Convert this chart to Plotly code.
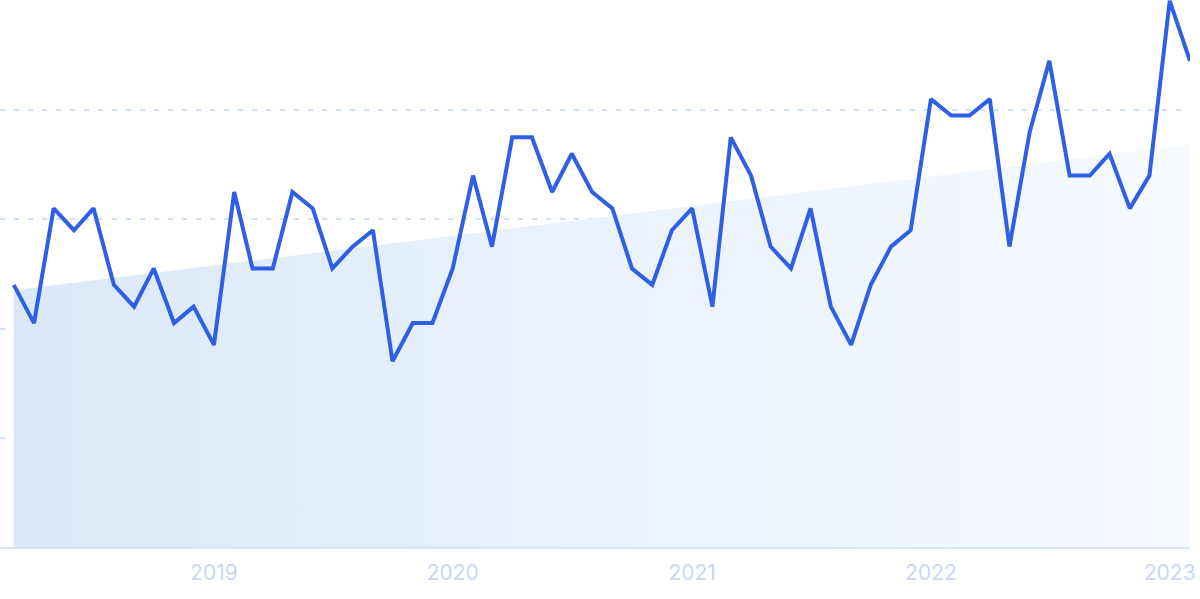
import pandas as pd
import plotly.graph_objects as go

# Monthly values, March 2018 – February 2023 (index 0..100)
start_month = "2018-03-01"
values = [48, 41, 62, 58, 62, 48, 44, 51, 41, 44,
          37, 65, 51, 51, 65, 62, 51, 55, 58, 34,
          41, 41, 51, 68, 55, 75, 75, 65, 72, 65,
          62, 51, 48, 58, 62, 44, 75, 68, 55, 51,
          62, 44, 37, 48, 55, 58, 82, 79, 79, 82,
          55, 76, 89, 68, 68, 72, 62, 68, 100, 89]
months = pd.date_range(start_month, periods=len(values), freq="MS")

# Trend line endpoints (read from the shaded area)
trend_values = [47, 73.7]
trend_x = [months[0], months[-1]]

tick_vals = ["2019-01-01", "2020-01-01", "2021-01-01", "2022-01-01", "2023-01-01"]
tick_text = ["2019", "2020", "2021", "2022", "2023"]

fig = go.Figure()

fig.add_trace(go.Scatter(
    x=trend_x, y=trend_values, mode="lines", line=dict(width=0),
    fill="tozeroy",
    fillgradient=dict(type="horizontal",
                      colorscale=[[0, "#dbe8f9"], [0.5, "#eaf2fc"], [1, "#f7faff"]]),
    hoverinfo="skip", showlegend=False,
))

fig.add_trace(go.Scatter(
    x=months, y=values, mode="lines",
    line=dict(color="#2e5fe4", width=4),
    showlegend=False,
))

fig.update_layout(
    width=1200, height=599,
    margin=dict(l=0, r=10, t=0, b=52),
    paper_bgcolor="white", plot_bgcolor="white",
    font=dict(family="Inter, Roboto, sans-serif"),
)

fig.update_xaxes(
    range=[pd.Timestamp("2018-02-08"), months[-1]],
    tickvals=tick_vals, ticktext=tick_text,
    tickfont=dict(size=21, color="#cbd6f4"),
    showgrid=False, zeroline=False,
    showline=True, linecolor="#d4e4fa", linewidth=2,
    ticks="", ticklabelstandoff=6,
)
fig.update_yaxes(
    range=[0, 100.15], tickvals=[20, 40, 60, 80, 100],
    showticklabels=False, zeroline=False,
    showgrid=True, gridcolor="#cfe0fa", gridwidth=1.5,
    griddash="5px,9px",
)

fig.write_html(
    "out.html",
    config={"displayModeBar": False},
    post_script="document.body.style.margin='0';document.body.style.overflow='hidden';",
)
